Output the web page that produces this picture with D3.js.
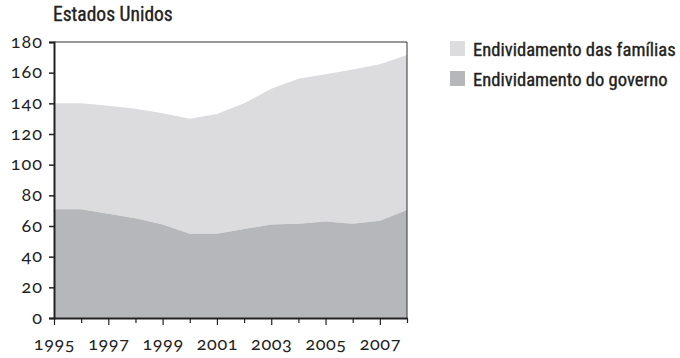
<!DOCTYPE html>
<html>
<head>
<meta charset="utf-8">
<script src="https://cdn.jsdelivr.net/npm/d3@7"></script>
<style>
  body { margin: 0; background: #fff; }
  .title, .legend text { font-family: "Roboto Condensed", "Liberation Sans Narrow", "DejaVu Sans Condensed", sans-serif; fill: #222; stroke: #222; stroke-width: 0.35px; }
  .tick text { font-family: Lato, "Liberation Serif", serif; font-variant-numeric: oldstyle-nums; font-feature-settings: "onum" 1; fill: #222; }
</style>
</head>
<body>
<svg id="chart" width="680" height="358"></svg>
<script>
// US debt as % of GDP, stacked: government at the bottom, households on top.
const years = [1995, 1996, 1997, 1998, 1999, 2000, 2001, 2002, 2003, 2004, 2005, 2006, 2007, 2008];
const governo = [71, 71, 68, 65, 61, 55, 55, 58, 61, 61.5, 63, 61.5, 63.5, 70.5];
const total = [140, 140, 138.5, 136.5, 133.5, 130, 133, 140, 149.5, 156, 159, 162, 165.5, 171.5];
const familias = total.map((t, i) => t - governo[i]);

const seriesNames = ["Endividamento das famílias", "Endividamento do governo"];
const seriesColors = ["#dcdcde", "#b6b7ba"];
const yTicks = [0, 20, 40, 60, 80, 100, 120, 140, 160, 180];
const xLabelYears = [1995, 1997, 1999, 2001, 2003, 2005, 2007];

const svg = d3.select("#chart");
const plotLeft = 54, plotRight = 407, plotTop = 42, plotBottom = 318;

const x = d3.scaleLinear().domain([1995, 2008]).range([plotLeft, plotRight]);
const y = d3.scaleLinear().domain([0, 180]).range([plotBottom, plotTop]);

const data = years.map((yr, i) => ({ year: yr, gov: governo[i], fam: familias[i] }));

const area = (lo, hi) => d3.area()
  .x((d) => x(d.year))
  .y0((d) => y(lo(d)))
  .y1((d) => y(hi(d)));

svg.append("path").datum(data)
  .attr("fill", seriesColors[0])
  .attr("d", area((d) => d.gov, (d) => d.gov + d.fam));
svg.append("path").datum(data)
  .attr("fill", seriesColors[1])
  .attr("d", area(() => 0, (d) => d.gov));

// thin frame on top and right
svg.append("path")
  .attr("d", `M${plotLeft},${plotTop}H${plotRight}V${plotBottom}`)
  .attr("fill", "none").attr("stroke", "#333").attr("stroke-width", 1);

const yAxis = svg.append("g")
  .attr("transform", `translate(${plotLeft},0)`)
  .call(d3.axisLeft(y).tickValues(yTicks).tickSize(5).tickPadding(6).tickFormat(d3.format("d")));
yAxis.select(".domain").attr("stroke", "#222").attr("stroke-width", 2);
yAxis.selectAll(".tick line").attr("stroke", "#222").attr("stroke-width", 1.5);
yAxis.selectAll(".tick text").attr("font-size", 18).attr("letter-spacing", 1).attr("dy", "0.28em");

const xAxis = svg.append("g")
  .attr("transform", `translate(0,${plotBottom})`)
  .call(d3.axisBottom(x).tickValues(years).tickSizeOuter(0)
    .tickFormat((d) => xLabelYears.includes(d) ? d : ""));
xAxis.select(".domain").attr("stroke", "#222").attr("stroke-width", 2);
xAxis.selectAll(".tick line")
  .attr("stroke", "#222").attr("stroke-width", 1.2)
  .attr("y2", (d) => xLabelYears.includes(d) ? 7 : 5);
xAxis.selectAll(".tick text").attr("font-size", 18).attr("letter-spacing", 0.6)
  .attr("y", 32).attr("dy", 0);

svg.append("text").attr("class", "title")
  .attr("x", 53).attr("y", 21)
  .attr("font-size", 19.5)
  .text("Estados Unidos");

const legend = svg.append("g").attr("class", "legend")
  .attr("transform", "translate(450,41)");
seriesNames.forEach((name, i) => {
  const g = legend.append("g").attr("transform", `translate(0,${i * 30})`);
  g.append("rect").attr("width", 15).attr("height", 15).attr("fill", seriesColors[i]);
  g.append("text").attr("x", 23).attr("y", 14.5).attr("font-size", 18.6).text(name);
});
</script>
</body>
</html>
